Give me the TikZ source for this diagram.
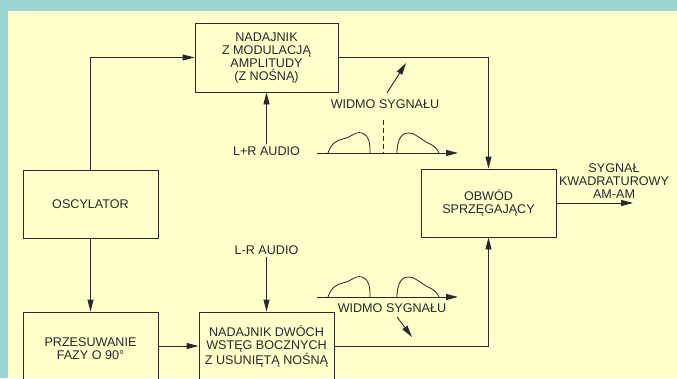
\documentclass[tikz,border=0pt]{standalone}
\usepackage{fontspec}
\setmainfont{Liberation Sans}
\usetikzlibrary{arrows.meta,calc}
\definecolor{tealbd}{RGB}{155,214,212}
\definecolor{bgy}{RGB}{255,255,204}
\definecolor{ink}{RGB}{40,40,40}
\begin{document}
\begin{tikzpicture}[x=1pt,y=-1pt,
  font=\fontsize{12.6}{13}\selectfont,
  every node/.style={text=ink},
  blk/.style={draw=ink, line width=0.9pt, align=center, inner sep=0pt},
  lbl/.style={align=center, inner sep=2pt},
  wire/.style={draw=ink, line width=0.9pt},
  arr/.style={wire, -{Triangle[length=12pt,width=6pt]}},
  curve/.style={draw=ink, line width=0.8pt}]
\useasboundingbox (0,0) rectangle (677,378);
\clip (0,0) rectangle (677,378);
\fill[tealbd] (0,0) rectangle (677,378);
\fill[bgy] (8,11) rectangle (677,378);

% blocks
\node[blk, minimum width=143pt, minimum height=69pt] (am) at (266.5,57.5)
  {NADAJNIK\\Z MODULACJĄ\\AMPLITUDY\\(Z NOŚNĄ)};
\node[blk, minimum width=135pt, minimum height=68pt] (osc) at (90.5,204) {OSCYLATOR};
\node[blk, minimum width=135pt, minimum height=73pt] (prz) at (90.5,348.5)
  {PRZESUWANIE\\FAZY O 90\textdegree};
\node[blk, minimum width=135pt, minimum height=68pt] (dsb) at (266.5,346)
  {NADAJNIK DWÓCH\\WSTĘG BOCZNYCH\\Z USUNIĘTĄ NOŚNĄ};
\node[blk, minimum width=135pt, minimum height=68pt] (obw) at (488.5,203)
  {OBWÓD\\SPRZĘGAJĄCY};

% labels
\node[lbl] (lr) at (266.5,151) {L+R AUDIO};
\node[lbl] (lmr) at (266.5,250) {L-R AUDIO};
\node[lbl] (out) at (614,181) {SYGNAŁ\\KWADRATUROWY\\AM-AM};
\node[lbl] (w1) at (385,104) {WIDMO SYGNAŁU};
\node[lbl] (w2) at (392,308) {WIDMO SYGNAŁU};

% connectors
\draw[arr] (osc.north) |- (am.west);
\draw[arr] (am.east) -| (obw.north);
\draw[arr] (lr.north) -- (am.south);
\draw[arr] (osc.south) -- (prz.north);
\draw[arr] (prz.east |- dsb.west) -- (dsb.west);
\draw[arr] (lmr.south) -- (dsb.north);
\draw[arr] (dsb.east) -| (obw.south);
\coordinate (outend) at (633,203);
\draw[arr] (obw.east) -- (outend);

% spectrum pointers
\coordinate (w1a) at (387,93);
\coordinate (w1b) at (406,63);
\draw[arr] (w1a) -- (w1b);
\coordinate (w2a) at (397,317);
\coordinate (w2b) at (412,337);
\draw[arr] (w2a) -- (w2b);

% spectra
\foreach \dy in {0,144} {
  \begin{scope}[yshift=-\dy pt]
    \coordinate (s0) at (317,153);
    \coordinate (s1) at (458,153);
    \draw[arr] (s0) -- (s1);
    \draw[curve] (328,153) .. controls (331,144) and (335,141) .. (343,139)
      .. controls (352,137) and (355,131) .. (362,133)
      .. controls (370,136) and (370,145) .. (370,153);
    \draw[curve] (397,153) .. controls (397,143) and (400,133) .. (408,133)
      .. controls (416,133) and (420,139) .. (428,143)
      .. controls (435,146) and (437,149) .. (439,153);
  \end{scope}
}
\coordinate (d0) at (383,120);
\coordinate (d1) at (383,153);
\draw[wire, line width=0.8pt, dash pattern=on 5pt off 3pt] (d0) -- (d1);
\end{tikzpicture}
\end{document}
